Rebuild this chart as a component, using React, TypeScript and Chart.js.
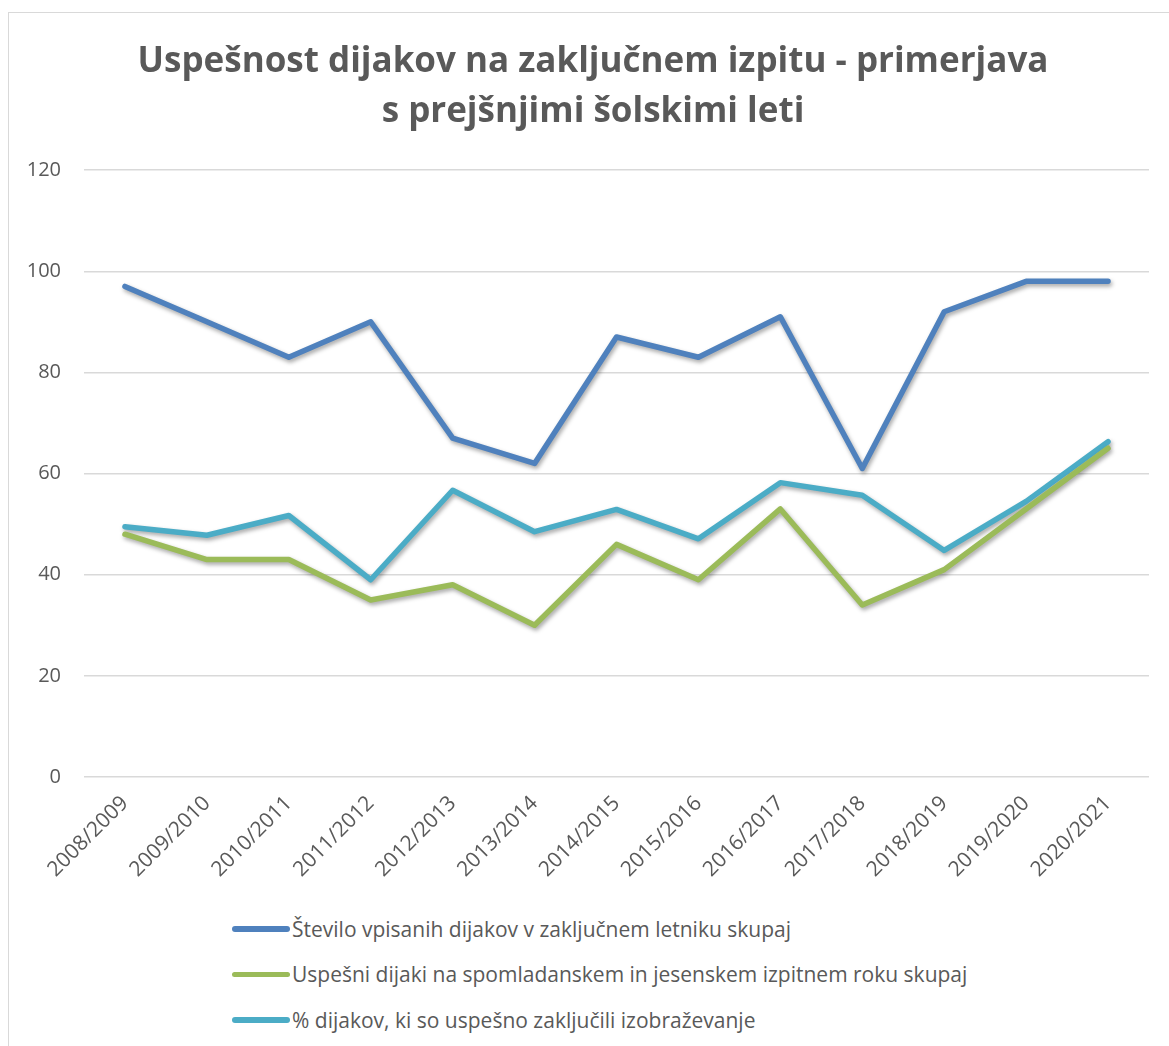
import React, { useEffect, useRef } from "react";
import { Chart, registerables } from "chart.js";

Chart.register(...registerables);

const categories = [
  "2008/2009", "2009/2010", "2010/2011", "2011/2012", "2012/2013", "2013/2014", "2014/2015",
  "2015/2016", "2016/2017", "2017/2018", "2018/2019", "2019/2020", "2020/2021",
];
const enrolled = [97, 90, 83, 90, 67, 62, 87, 83, 91, 61, 92, 98, 98];
const successful = [48, 43, 43, 35, 38, 30, 46, 39, 53, 34, 41, 53, 65];
const percentCompleted = [49.5, 47.8, 51.7, 39, 56.7, 48.5, 52.9, 47.1, 58.2, 55.7, 44.8, 54.5, 66.3];
const seriesNames = [
  "Število vpisanih dijakov v zaključnem letniku skupaj",
  "Uspešni dijaki na spomladanskem in jesenskem izpitnem roku skupaj",
  "% dijakov, ki so uspešno zaključili izobraževanje",
];
const seriesColors = ["#4F81BD", "#9BBB59", "#4BACC6"];
const titleLines = ["Uspešnost dijakov na zaključnem izpitu - primerjava", "s prejšnjimi šolskimi leti"];

const FONT = "'Open Sans', sans-serif";

const shadowPlugin = {
  id: "lineShadow",
  afterLayout(chart: any) {
    // let y tick labels extend left of the axis box without being clipped
    if (chart.scales.y) chart.scales.y.left = 0;
  },
  beforeDatasetsDraw(chart: any) {
    const ctx = chart.ctx;
    ctx.save();
    ctx.shadowColor = "rgba(0,0,0,0.35)";
    ctx.shadowBlur = 4;
    ctx.shadowOffsetX = 1.5;
    ctx.shadowOffsetY = 2.5;
  },
  afterDatasetsDraw(chart: any) {
    chart.ctx.restore();
  },
};

export default function App() {
  const ref = useRef<HTMLCanvasElement | null>(null);

  useEffect(() => {
    if (!ref.current) return;
    const data = [enrolled, successful, percentCompleted];
    const chart = new Chart(ref.current, {
      type: "line",
      data: {
        labels: categories,
        datasets: data.map((d, i) => ({
          label: seriesNames[i],
          data: d,
          borderColor: seriesColors[i],
          backgroundColor: seriesColors[i],
          borderWidth: 5.5,
          borderCapStyle: "round",
          borderJoinStyle: "round",
          pointRadius: 0,
          pointHoverRadius: 0,
          tension: 0,
          fill: false,
          clip: 10,
        })),
      },
      options: {
        animation: false,
        responsive: false,
        events: [],
        layout: { padding: { left: 37, right: 20, top: 0, bottom: 0 } },
        plugins: {
          legend: { display: false },
          tooltip: { enabled: false },
          title: {
            display: true,
            text: titleLines,
            color: "#595959",
            font: { family: FONT, size: 35, weight: "bold", lineHeight: 1.43 },
            padding: { top: 37, bottom: 33 },
          },
        },
        scales: {
          x: {
            offset: true,
            grid: { display: false, drawTicks: false },
            border: { display: false },
            ticks: {
              minRotation: 45,
              maxRotation: 45,
              autoSkip: false,
              color: "#595959",
              font: { family: FONT, size: 21 },
              padding: 14,
            },
            afterFit(scale: any) {
              scale.height = 123;
            },
          },
          y: {
            min: 0,
            max: 120,
            grid: { color: "#d9d9d9", lineWidth: 1.5, drawTicks: false },
            border: { display: false },
            ticks: {
              stepSize: 20,
              color: "#595959",
              font: { family: FONT, size: 20 },
              padding: 23,
            },
            afterFit(scale: any) {
              scale.width = 47;
            },
          },
        },
      },
      plugins: [shadowPlugin],
    });
    return () => chart.destroy();
  }, []);

  return (
    <div style={{ position: "absolute", left: 0, top: 0, width: 1169, height: 1046, overflow: "hidden", background: "#fff" }}>
      <div
        style={{
          position: "absolute",
          left: 8,
          top: 12,
          width: 1170,
          height: 1100,
          borderLeft: "1.5px solid #d9d9d9",
          borderTop: "1.5px solid #d9d9d9",
        }}
      />
      <canvas ref={ref} width={1169} height={900} style={{ position: "absolute", left: 0, top: 0 }} />
      <div style={{ position: "absolute", left: 232, top: 906, fontFamily: FONT, fontSize: 21, color: "#595959" }}>
        {seriesNames.map((name, i) => (
          <div key={name} style={{ display: "flex", alignItems: "center", height: 45.5 }}>
            <span
              style={{
                display: "inline-block",
                width: 58,
                height: 5.5,
                borderRadius: 3,
                background: seriesColors[i],
                marginRight: 2,
              }}
            />
            <span>{name}</span>
          </div>
        ))}
      </div>
    </div>
  );
}
